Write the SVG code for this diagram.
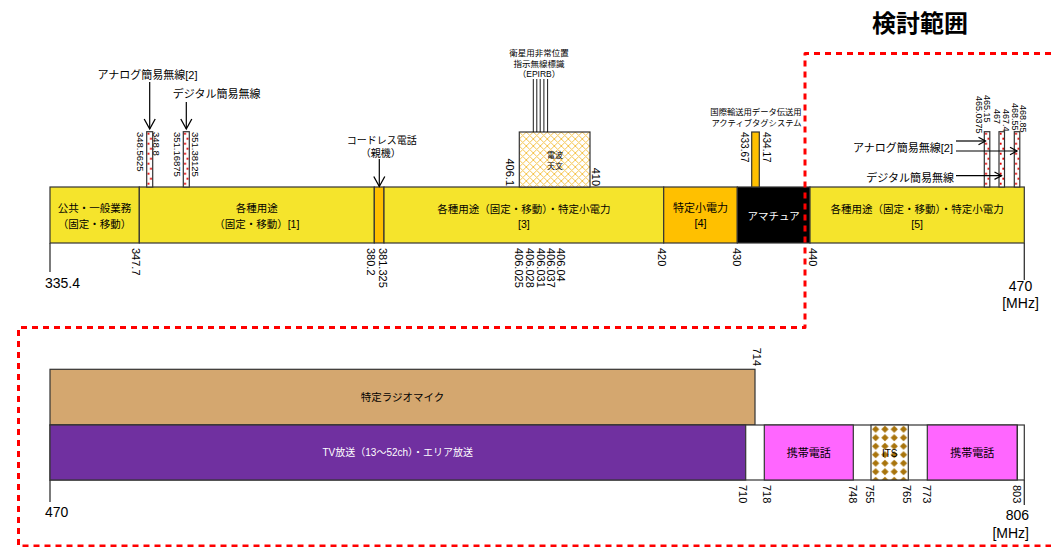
<svg xmlns="http://www.w3.org/2000/svg" width="1051" height="547" viewBox="0 0 1051 547">
<style>
text{font-family:"Liberation Sans","Noto Sans CJK JP",sans-serif;dominant-baseline:central;text-anchor:middle;fill:#000}
.bd{stroke:#333;stroke-width:1.2}
.t{font-size:10.5px}
.v{font-size:11px;text-anchor:start}
.ve{font-size:11px;text-anchor:end}
.s9{font-size:9.5px;text-anchor:start}
.ax{font-size:14px}
.ln{stroke:#000;stroke-width:1.2;fill:none}
.tk{stroke:#333;stroke-width:1.3}
</style>
<defs>
<pattern id="dots" width="6" height="10" patternUnits="userSpaceOnUse"><rect width="6" height="10" fill="#fff"/><rect x="0.8" y="1" width="1.8" height="2" fill="#e00000"/><rect x="3.4" y="6" width="1.8" height="2" fill="#e00000"/></pattern>
<pattern id="hatch" width="7" height="7" patternUnits="userSpaceOnUse"><rect width="7" height="7" fill="#fff"/><path d="M-1,-1 L8,8 M8,-1 L-1,8" stroke="#F5C44E" stroke-width="1"/></pattern>
<pattern id="its" width="9.3" height="8.5" patternUnits="userSpaceOnUse"><rect width="9.3" height="8.5" fill="#fff"/><path d="M4.65,0.6 L8.3,4.25 L4.65,7.9 L1,4.25Z" fill="#A8740C"/></pattern>
<marker id="ah" viewBox="0 0 10 12" refX="10" refY="6" markerWidth="10" markerHeight="12" markerUnits="userSpaceOnUse" orient="auto" overflow="visible"><path d="M0,0.5 L10,6 L0,11.5" fill="none" stroke="#000" stroke-width="1.3"/></marker>
<marker id="ahs" viewBox="0 0 7 8" refX="7" refY="4" markerWidth="7" markerHeight="8" markerUnits="userSpaceOnUse" orient="auto" overflow="visible"><path d="M0,0.3 L7,4 L0,7.7" fill="none" stroke="#000" stroke-width="1.2"/></marker>
</defs>

<rect width="1051" height="547" fill="#fff"/>

<g id="title"><text x="920" y="23" font-size="24" font-weight="bold">検討範囲</text></g>

<!-- Upper band 335.4 - 470 MHz -->
<g id="seg-public"><rect x="50" y="187" width="89.3" height="56" fill="#F5E42C" class="bd"/><text class="t" x="94.6" y="208">公共・一般業務</text><text class="t" x="94.6" y="223.5">（固定・移動）</text></g>
<g id="seg-1"><rect x="139.3" y="187" width="235" height="56" fill="#F5E42C" class="bd"/><text class="t" x="256.8" y="208">各種用途</text><text class="t" x="256.8" y="223.5">（固定・移動）[1]</text></g>
<g id="seg-cordless"><rect x="374.3" y="187" width="9.7" height="56" fill="#FFC000" class="bd"/></g>
<g id="seg-3"><rect x="384" y="187" width="279.7" height="56" fill="#F5E42C" class="bd"/><text class="t" x="523.9" y="208.5">各種用途（固定・移動）・特定小電力</text><text class="t" x="523.9" y="223.5">[3]</text></g>
<g id="seg-4"><rect x="663.7" y="187" width="73.6" height="56" fill="#FFC000" class="bd"/><text x="700.5" y="208" font-size="11">特定小電力</text><text x="700.5" y="223" font-size="11">[4]</text></g>
<g id="seg-amateur"><rect x="737.3" y="187" width="72.7" height="56" fill="#000" class="bd"/><text x="773.6" y="215.5" font-size="10.5" style="fill:#fff">アマチュア</text></g>
<g id="seg-5"><rect x="810" y="187" width="214.3" height="56" fill="#F5E42C" class="bd"/><text class="t" x="917.2" y="208.5">各種用途（固定・移動）・特定小電力</text><text class="t" x="917.2" y="223.5">[5]</text></g>

<g id="bar-analog-left"><g transform="translate(146.7,131.7)"><rect width="6" height="55.3" fill="url(#dots)" class="bd"/></g></g>
<g id="bar-digital-left"><g transform="translate(183.3,131.7)"><rect width="6" height="55.3" fill="url(#dots)" class="bd"/></g></g>
<g id="epirb-radioastro"><g transform="translate(519.3,132)"><rect width="70.7" height="55" fill="url(#hatch)" class="bd"/></g><text x="555" y="155" font-size="8">電波</text><text x="555" y="166" font-size="8">天文</text></g>
<g id="bar-activetag"><rect x="751.7" y="132" width="7.6" height="55" fill="#FFC000" class="bd"/></g>
<g id="bar-r1"><g transform="translate(984.3,131.7)"><rect width="5.5" height="55.3" fill="url(#dots)" class="bd"/></g></g>
<g id="bar-r2"><g transform="translate(999,131.7)"><rect width="5.5" height="55.3" fill="url(#dots)" class="bd"/></g></g>
<g id="bar-r3"><g transform="translate(1014.3,131.7)"><rect width="5.5" height="55.3" fill="url(#dots)" class="bd"/></g></g>

<g id="labels-upper">
<text x="147.5" y="75" font-size="11">アナログ簡易無線[2]</text>
<text x="216.7" y="93.5" font-size="11">デジタル簡易無線</text>
<text x="381.7" y="140" font-size="10">コードレス電話</text>
<text x="380.7" y="153.3" font-size="10">（親機）</text>
<text x="539" y="53.3" font-size="8.5">衛星用非常位置</text>
<text x="539" y="64" font-size="8.5">指示無線標識</text>
<text x="539" y="73.5" font-size="8.5">（EPIRB）</text>
<text x="756" y="112" font-size="8.3">国際輸送用データ伝送用</text>
<text x="756.5" y="122.7" font-size="8.3">アクティブタグシステム</text>
<text x="953" y="148.3" font-size="11" style="text-anchor:end">アナログ簡易無線[2]</text>
<text x="954" y="177.7" font-size="11" style="text-anchor:end">デジタル簡易無線</text>
</g>

<g id="freq-upper">
<text class="s9" transform="translate(140,132) rotate(90)">348.5625</text>
<text class="s9" transform="translate(156.3,132) rotate(90)">348.8</text>
<text class="s9" transform="translate(177,132) rotate(90)">351.16875</text>
<text class="s9" transform="translate(195,132) rotate(90)">351.38125</text>
<text class="ve" transform="translate(510,186) rotate(90)">406.1</text>
<text class="ve" transform="translate(596,186) rotate(90)">410</text>
<text class="v" font-size="10" transform="translate(744,132) rotate(90)" style="font-size:10px">433.67</text>
<text class="v" transform="translate(766,132) rotate(90)" style="font-size:10px">434.17</text>
<text class="s9" transform="translate(979,96) rotate(90)" style="font-size:9px">465.0375</text>
<text class="s9" transform="translate(987.3,95) rotate(90)" style="font-size:9px">465.15</text>
<text class="s9" transform="translate(997.3,109) rotate(90)" style="font-size:9px">467</text>
<text class="s9" transform="translate(1006,109) rotate(90)" style="font-size:9px">467.4</text>
<text class="s9" transform="translate(1015,103) rotate(90)" style="font-size:9px">468.55</text>
<text class="s9" transform="translate(1023.3,105) rotate(90)" style="font-size:9px">468.85</text>
<text class="v" transform="translate(136,248) rotate(90)">347.7</text>
<text class="v" transform="translate(371,248) rotate(90)">380.2</text>
<text class="v" transform="translate(382.5,248) rotate(90)">381.325</text>
<text class="v" transform="translate(519.3,248) rotate(90)">406.025</text>
<text class="v" transform="translate(530,248) rotate(90)">406.028</text>
<text class="v" transform="translate(540.5,248) rotate(90)">406.031</text>
<text class="v" transform="translate(551,248) rotate(90)">406.037</text>
<text class="v" transform="translate(561,248) rotate(90)">406.04</text>
<text class="v" transform="translate(662,248) rotate(90)">420</text>
<text class="v" transform="translate(736.5,248) rotate(90)">430</text>
<text class="v" transform="translate(812.5,248) rotate(90)">440</text>
<line class="tk" x1="50" y1="243" x2="50" y2="272"/>
<line class="tk" x1="1024.3" y1="243" x2="1024.3" y2="280"/>
<text class="ax" x="45" y="283" style="text-anchor:start">335.4</text>
<text class="ax" x="1020.5" y="286">470</text>
<text class="ax" x="1020.5" y="303.3">[MHz]</text>
</g>

<!-- Lower band 470 - 806 MHz -->
<g id="seg-radiomic"><rect x="50" y="369.3" width="705" height="55.7" fill="#D4A76F" class="bd"/><text class="t" x="402.5" y="397">特定ラジオマイク</text></g>
<g id="seg-lower-frame"><rect x="50" y="425" width="974.3" height="55" fill="#fff" class="bd"/></g>
<g id="seg-tv"><rect x="50" y="425" width="695.7" height="55" fill="#7030A0" class="bd"/><text x="397.8" y="452.5" font-size="10" style="fill:#fff">TV放送（13～52ch）・エリア放送</text></g>
<g id="seg-mobile1"><rect x="764.3" y="425" width="89" height="55" fill="#FF66FF" class="bd"/><text x="808.8" y="453" font-size="11">携帯電話</text></g>
<g id="seg-its"><g transform="translate(871,425)"><rect width="37.3" height="55" fill="url(#its)" class="bd"/></g><text x="889.7" y="453" font-size="10">ITS</text></g>
<g id="seg-mobile2"><rect x="927.3" y="425" width="90" height="55" fill="#FF66FF" class="bd"/><text x="972.3" y="453" font-size="11">携帯電話</text></g>
<g id="seg-guard"><line class="bd" x1="1017.3" y1="425" x2="1017.3" y2="480"/></g>

<g id="freq-lower">
<text class="ve" transform="translate(756.7,366) rotate(90)">714</text>
<text class="v" transform="translate(743.3,485) rotate(90)">710</text>
<text class="v" transform="translate(766.7,485) rotate(90)">718</text>
<text class="v" transform="translate(853.3,485) rotate(90)">748</text>
<text class="v" transform="translate(870,485) rotate(90)">755</text>
<text class="v" transform="translate(907.3,485) rotate(90)">765</text>
<text class="v" transform="translate(926.7,485) rotate(90)">773</text>
<text class="v" transform="translate(1016.7,485) rotate(90)">803</text>
<line class="tk" x1="50" y1="480" x2="50" y2="502"/>
<line class="tk" x1="1024.3" y1="480" x2="1024.3" y2="505"/>
<text class="ax" x="45" y="512" style="text-anchor:start">470</text>
<text class="ax" x="1029" y="515" style="text-anchor:end">806</text>
<text class="ax" x="1029" y="533.3" style="text-anchor:end">[MHz]</text>
</g>

<g id="connectors">
<line class="ln" x1="149.7" y1="82" x2="149.7" y2="129" marker-end="url(#ah)"/>
<line class="ln" x1="186.3" y1="102" x2="186.3" y2="129" marker-end="url(#ah)"/>
<line class="ln" x1="379.3" y1="159" x2="379.3" y2="186.5" marker-end="url(#ah)"/>
<line stroke="#000" stroke-width="0.9" x1="533.3" y1="79" x2="533.3" y2="132"/>
<line stroke="#000" stroke-width="0.9" x1="536.8" y1="79" x2="536.8" y2="132"/>
<line stroke="#000" stroke-width="0.9" x1="540.2" y1="79" x2="540.2" y2="132"/>
<line stroke="#000" stroke-width="0.9" x1="543.9" y1="79" x2="543.9" y2="132"/>
<line stroke="#000" stroke-width="0.9" x1="547.6" y1="79" x2="547.6" y2="132"/>
<line class="ln" x1="956" y1="141" x2="985.5" y2="141" marker-end="url(#ahs)"/>
<line class="ln" x1="956" y1="151" x2="1017" y2="151" marker-end="url(#ahs)"/>
<line class="ln" x1="956" y1="175.7" x2="1001.5" y2="175.7" marker-end="url(#ahs)"/>
</g>

<g id="study-range">
<path d="M1051,53.5 H805 V327.5 H18.5 V546 H1051" fill="none" stroke="#FF0000" stroke-width="3" stroke-dasharray="6 5" stroke-linejoin="round"/>
</g>
</svg>
